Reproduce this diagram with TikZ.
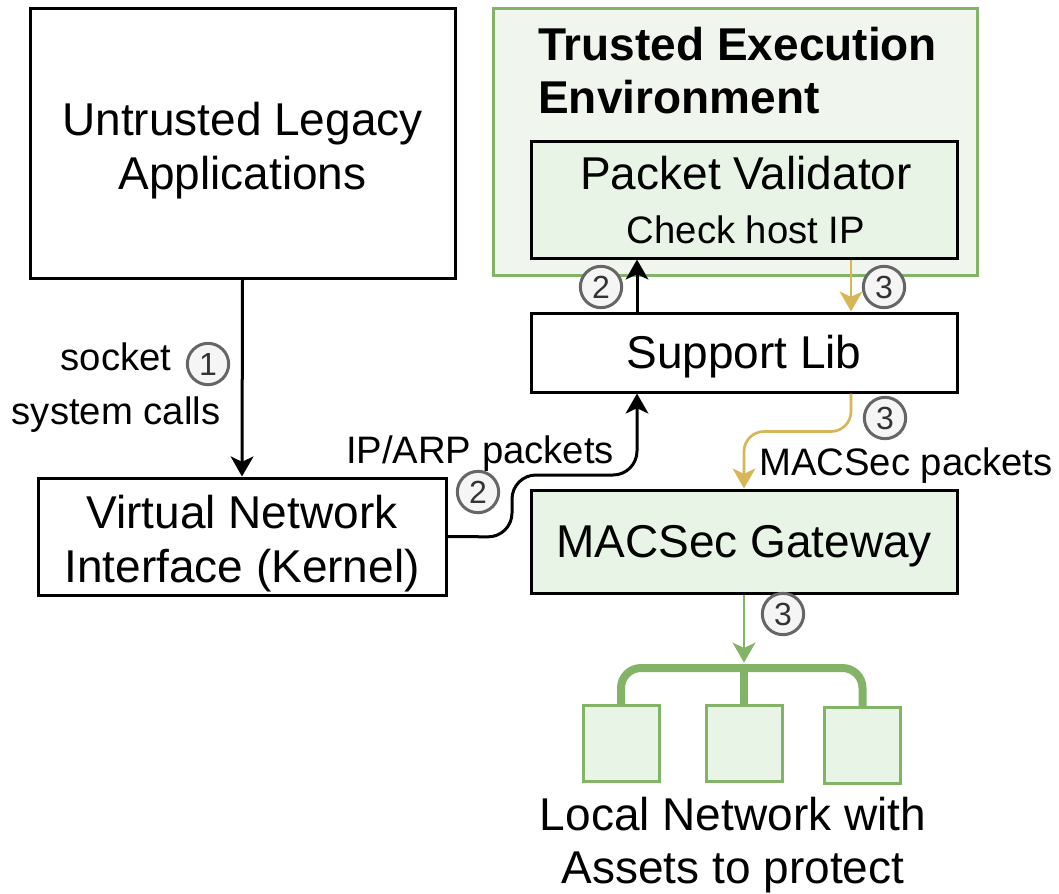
\documentclass[tikz,border=0pt]{standalone}
\usepackage{fontspec}
\setmainfont{Liberation Sans}
\usepackage{tikz}
\usetikzlibrary{arrows.meta,positioning}

\begin{document}
\begin{tikzpicture}[
  x=0.75pt, y=-0.75pt,
  bigfont/.style={font=\fontsize{34.5}{40}\selectfont},
  smallfont/.style={font=\fontsize{28.7}{40.5}\selectfont},
  box/.style={
    draw=black,
    line width=2.25pt,
    inner sep=0pt,
    align=center,
    text height=31.2pt,
    text depth=7.3pt,
    bigfont
  },
  greenbox/.style={box, fill=pvfill},
  teebox/.style={draw=teeline, fill=teefill, line width=2.25pt, inner sep=0pt},
  assetbox/.style={draw=teeline, fill=pvfill, line width=2.25pt, minimum size=57pt, inner sep=0pt},
  numcirc/.style={
    circle,
    draw=numline,
    fill=numfill,
    line width=2.25pt,
    minimum size=31pt,
    inner sep=0pt,
    text=numtext,
    font=\fontsize{24}{24}\selectfont
  },
  flow/.style={-{Stealth[length=15pt, width=17pt, inset=4pt]}, line width=2.25pt, draw=black},
  goldflow/.style={flow, draw=goldline, line width=2pt},
  greenflow/.style={flow, draw=teeline, line width=2pt},
  bus/.style={draw=teeline, line width=6pt}
]

\definecolor{teeline}{RGB}{130,179,102}
\definecolor{teefill}{RGB}{240,246,238}
\definecolor{pvfill}{RGB}{232,244,230}
\definecolor{goldline}{RGB}{214,182,86}
\definecolor{numline}{RGB}{102,102,102}
\definecolor{numfill}{RGB}{245,245,245}
\definecolor{numtext}{RGB}{51,51,51}

\useasboundingbox (0,0) rectangle (1059,893);

% host side
\node[box, minimum width=318.75pt, minimum height=202.5pt] (untrusted) at (242.5,143) {};
\node[bigfont, align=center] (untrustedtext) at (242.5,150.5) {Untrusted Legacy\\Applications};
\node[box, minimum width=306pt, minimum height=87.75pt] (vni) at (242,536.5) {};
\node[bigfont, align=center] (vnitext) at (242,543.5) {Virtual Network\\Interface (Kernel)};

% enclave and the boxes below it
\node[teebox, minimum width=363pt, minimum height=200.25pt] (tee) at (735,141.5) {};
\node[font=\fontsize{34.5}{40}\selectfont\bfseries, align=left, anchor=north west, inner sep=0pt]
  (teetitle) at (538,27) {Trusted Execution\\Environment};
\node[greenbox, minimum width=319.5pt, minimum height=87.75pt] (validator) at (744,199.5) {};
\node[bigfont] (pvtitle) at (746,173) {Packet Validator};
\node[smallfont] (pvcheck) at (746,230) {Check host IP};
\node[box, minimum width=319.5pt, minimum height=59.25pt] (support) at (744,352.5) {Support Lib};
\node[greenbox, minimum width=319.5pt, minimum height=77.25pt] (gateway) at (744,541.5) {MACSec Gateway};

\node[assetbox] (asset1) at (621,743.5) {};
\node[assetbox] (asset2) at (744,743.5) {};
\node[assetbox] (asset3) at (862.5,745.5) {};
\node[bigfont, align=center] (assetlabel) at (733,845) {Local Network with\\Assets to protect};

\coordinate (busmid) at (744,668);
\coordinate (upx) at (637,0);
\coordinate (goldx) at (851,0);

\draw[bus, rounded corners=15pt] (asset1.north) |- (busmid) -| (asset3.north);
\draw[bus] (busmid) -- (asset2.north);

% step 1
\draw[flow] (untrusted.south) -- (vni.north);
\node[smallfont, align=center] (syscalls) at (116,388) {socket\\system calls};
\node[numcirc] (n1) at (208,364) {1};

% step 2
\draw[flow, rounded corners=18pt] (vni.east) -- (512,537) -- (512,475) -- (637,475) -- (support.south -| upx);
\node[smallfont] (iplabel) at (480,454) {IP/ARP packets};
\node[numcirc] (n2a) at (478,492) {2};
\draw[flow] (support.north -| upx) -- (validator.south -| upx);
\node[numcirc] (n2b) at (601,287) {2};

% step 3
\draw[goldflow] (validator.south -| goldx) -- (support.north -| goldx);
\node[numcirc] (n3a) at (884,287) {3};
\draw[goldflow, rounded corners=15pt] (support.south -| goldx) -- ++(0,38) -| (gateway.north);
\node[numcirc] (n3b) at (885,418) {3};
\node[smallfont] (maclabel) at (906,466) {MACSec packets};
\draw[greenflow, shorten >=4pt] (gateway.south) -- (busmid);
\node[numcirc] (n3c) at (783,614) {3};

\end{tikzpicture}
\end{document}
